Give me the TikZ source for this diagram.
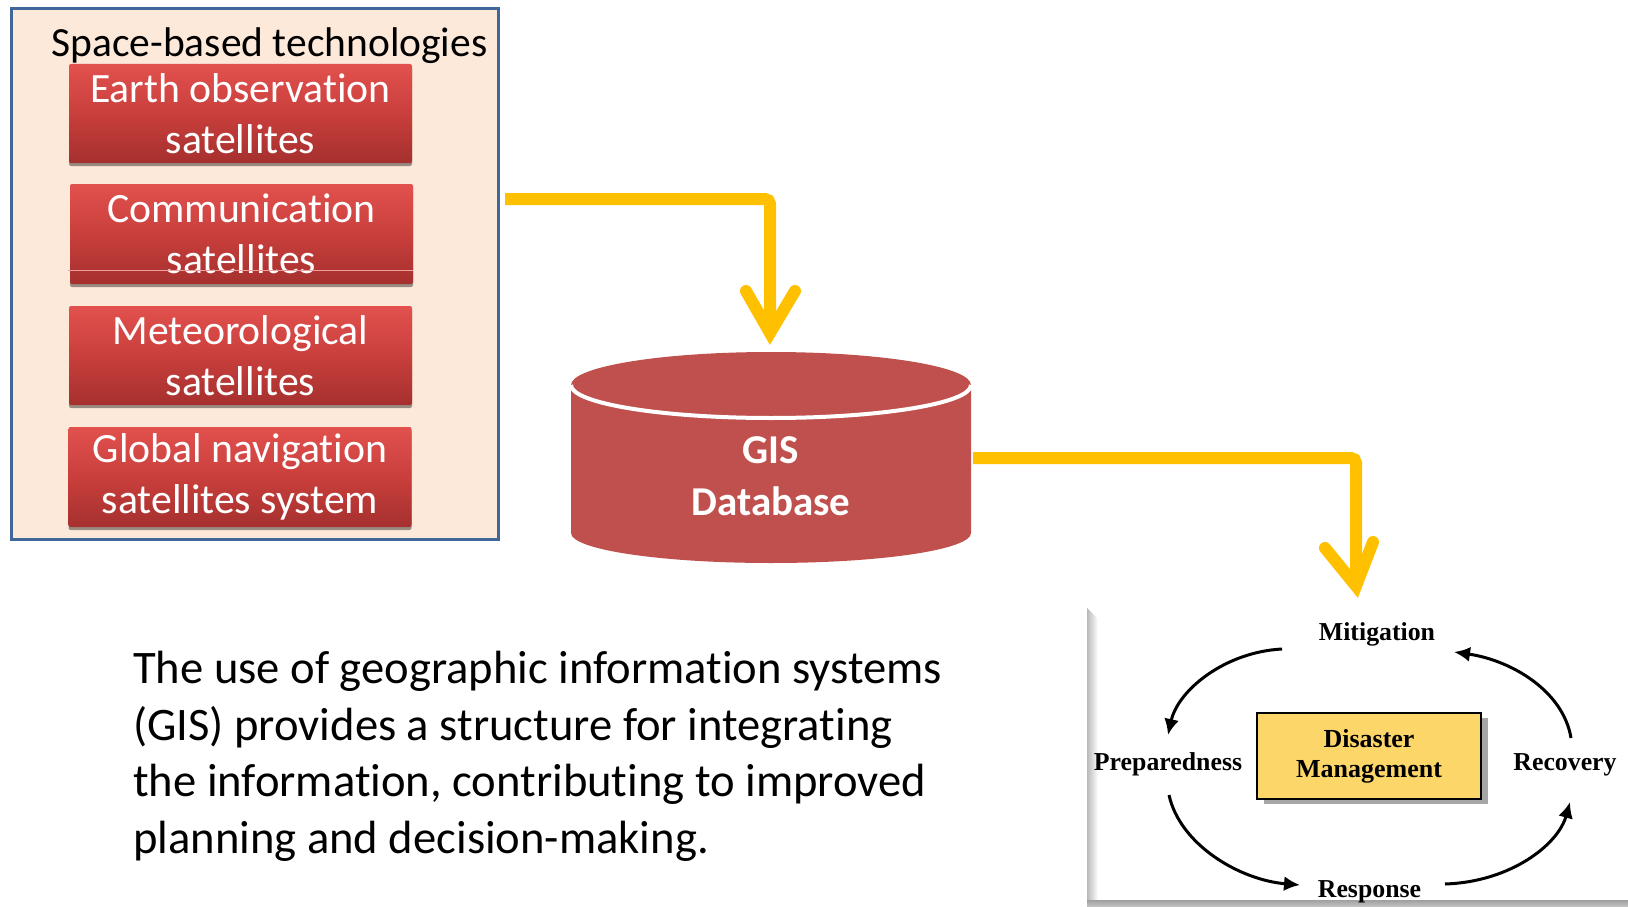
\documentclass[tikz,border=0pt]{standalone}
\usepackage{fontspec}
\setmainfont[Ligatures=NoCommon]{Carlito}
\newfontfamily\serifb{Liberation Serif}
\usetikzlibrary{arrows.meta,shadows,calc}

\definecolor{panelfill}{HTML}{FDE9D9}
\definecolor{panelblue}{HTML}{41679A}
\definecolor{redtop}{HTML}{E2514E}
\definecolor{redmid}{HTML}{C93F3C}
\definecolor{redbot}{HTML}{A5302E}
\definecolor{dbred}{HTML}{C0504D}
\definecolor{arrowyellow}{HTML}{FFC000}
\definecolor{dmfill}{HTML}{FDD66A}

\begin{document}
\begin{tikzpicture}[x=1pt,y=-1pt,
  satbox/.style={rounded corners=2pt, top color=redtop, bottom color=redbot, middle color=redmid,
    minimum width=343pt, minimum height=99pt, inner sep=0pt, align=center, text=white,
    font=\fontsize{41.7}{51}\selectfont,
    drop shadow={shadow xshift=0pt, shadow yshift=-3pt, opacity=0.4, fill=black}},
  feed/.style={draw=arrowyellow, line width=12pt, rounded corners=5pt},
  chev/.style={draw=arrowyellow, line width=12pt, line cap=round, line join=miter},
  phase/.style={font=\serifb\bfseries\fontsize{25.8}{30}\selectfont, inner sep=0pt, anchor=base},
  cyc/.style={draw=black, line width=3pt, -{Latex[length=16pt,width=15pt]}},
]
\useasboundingbox (0,0) rectangle (1628,907);
\fill[white] (0,0) rectangle (1628,907);

% left panel
\node[draw=panelblue, line width=3pt, fill=panelfill, minimum width=487pt, minimum height=531pt,
  inner sep=0pt, anchor=north west] (panel) at (10,7) {};

\node[satbox] (eo) at (240.5,113.5) {Earth observation\\satellites};
\node[satbox, minimum height=100pt] (comm) at (241.5,234) {Communication\\satellites};
\draw[redtop!55!white, line width=0.8pt] (68,270) -- (413,270);
\node[satbox] (met) at (240.5,355.5) {Meteorological\\satellites};
\node[satbox, minimum height=100pt] (gnss) at (240,477) {Global navigation\\satellites system};

\node[anchor=base, inner sep=0pt, font=\fontsize{41.5}{50}\selectfont] (title) at (269.5,57) {Space-based technologies};

% GIS database cylinder
\fill[dbred] (571,385) -- (571,533) arc[start angle=180, end angle=360, x radius=200pt, y radius=30pt] -- (971,385) -- cycle;
\fill[dbred] (771,385) ellipse[x radius=200pt, y radius=33pt];
\draw[white, line width=4pt] (571,385) arc[start angle=180, end angle=360, x radius=200pt, y radius=33pt];
\node[inner sep=0pt, align=center, text=white, font=\bfseries\fontsize{41}{52}\selectfont] (gis) at (771,476) {GIS\\Database};
\coordinate (dbright) at (971,458);

% arrow 1: panel -> database
\coordinate (r1) at (0,199);
\coordinate (tip1) at (770,333);
\draw[feed] ([xshift=5pt]panel.east |- r1) -| (tip1);
\draw[chev] ($(tip1)+(-24,-42)$) -- (tip1) -- ($(tip1)+(25,-42)$);

% arrow 2: database -> disaster management
\coordinate (tip2) at (1356,586);
\draw[feed] ([xshift=2pt]dbright) -| (tip2);
\draw[chev] ($(tip2)+(-31,-38)$) -- (tip2) -- ($(tip2)+(17,-44)$);

% disaster management panel
\shade[left color=gray!55, right color=white] (1087,608) -- (1098,619) -- (1098,902) -- (1087,902) -- cycle;
\shade[top color=gray!75, bottom color=gray!45] (1087,900) rectangle (1628,907);

\node[draw=black, line width=1.4pt, fill=dmfill, minimum width=224pt, minimum height=86pt, inner sep=0pt,
  align=center, font=\serifb\bfseries\fontsize{26}{30}\selectfont,
  drop shadow={shadow xshift=7pt, shadow yshift=-5pt, fill=gray!70, opacity=1}] (dm) at (1369,756) {Disaster\\Management};

\node[phase] (mit) at (1377,640) {Mitigation};
\node[phase] (prep) at (1168,770) {Preparedness};
\node[phase] (rec) at (1565,770) {Recovery};
\node[phase] (resp) at (1369.5,897) {Response};

\coordinate (a1s) at (1282,649);
\coordinate (a1e) at (1168,735);
\coordinate (a2s) at (1571,738);
\coordinate (a2e) at (1454,652);
\coordinate (a3s) at (1169,795);
\coordinate (a3e) at (1300,885);
\coordinate (a4s) at (1445,884);
\coordinate (a4e) at (1570,802);
\draw[cyc] (a1s) .. controls (1225,652) and (1178,690) .. (a1e);
\draw[cyc] (a2s) .. controls (1563,690) and (1510,660) .. (a2e);
\draw[cyc] (a3s) .. controls (1180,845) and (1240,880) .. (a3e);
\draw[cyc] (a4s) .. controls (1510,882) and (1558,845) .. (a4e);

% paragraph
\node[anchor=base west, align=left, inner sep=0pt, font=\fontsize{46.6}{56.5}\selectfont] (para) at (133,853)
 {The use of geographic information systems\\(GIS) provides a structure for integrating\\the information, contributing to improved\\planning and decision-making.};
\end{tikzpicture}
\end{document}
